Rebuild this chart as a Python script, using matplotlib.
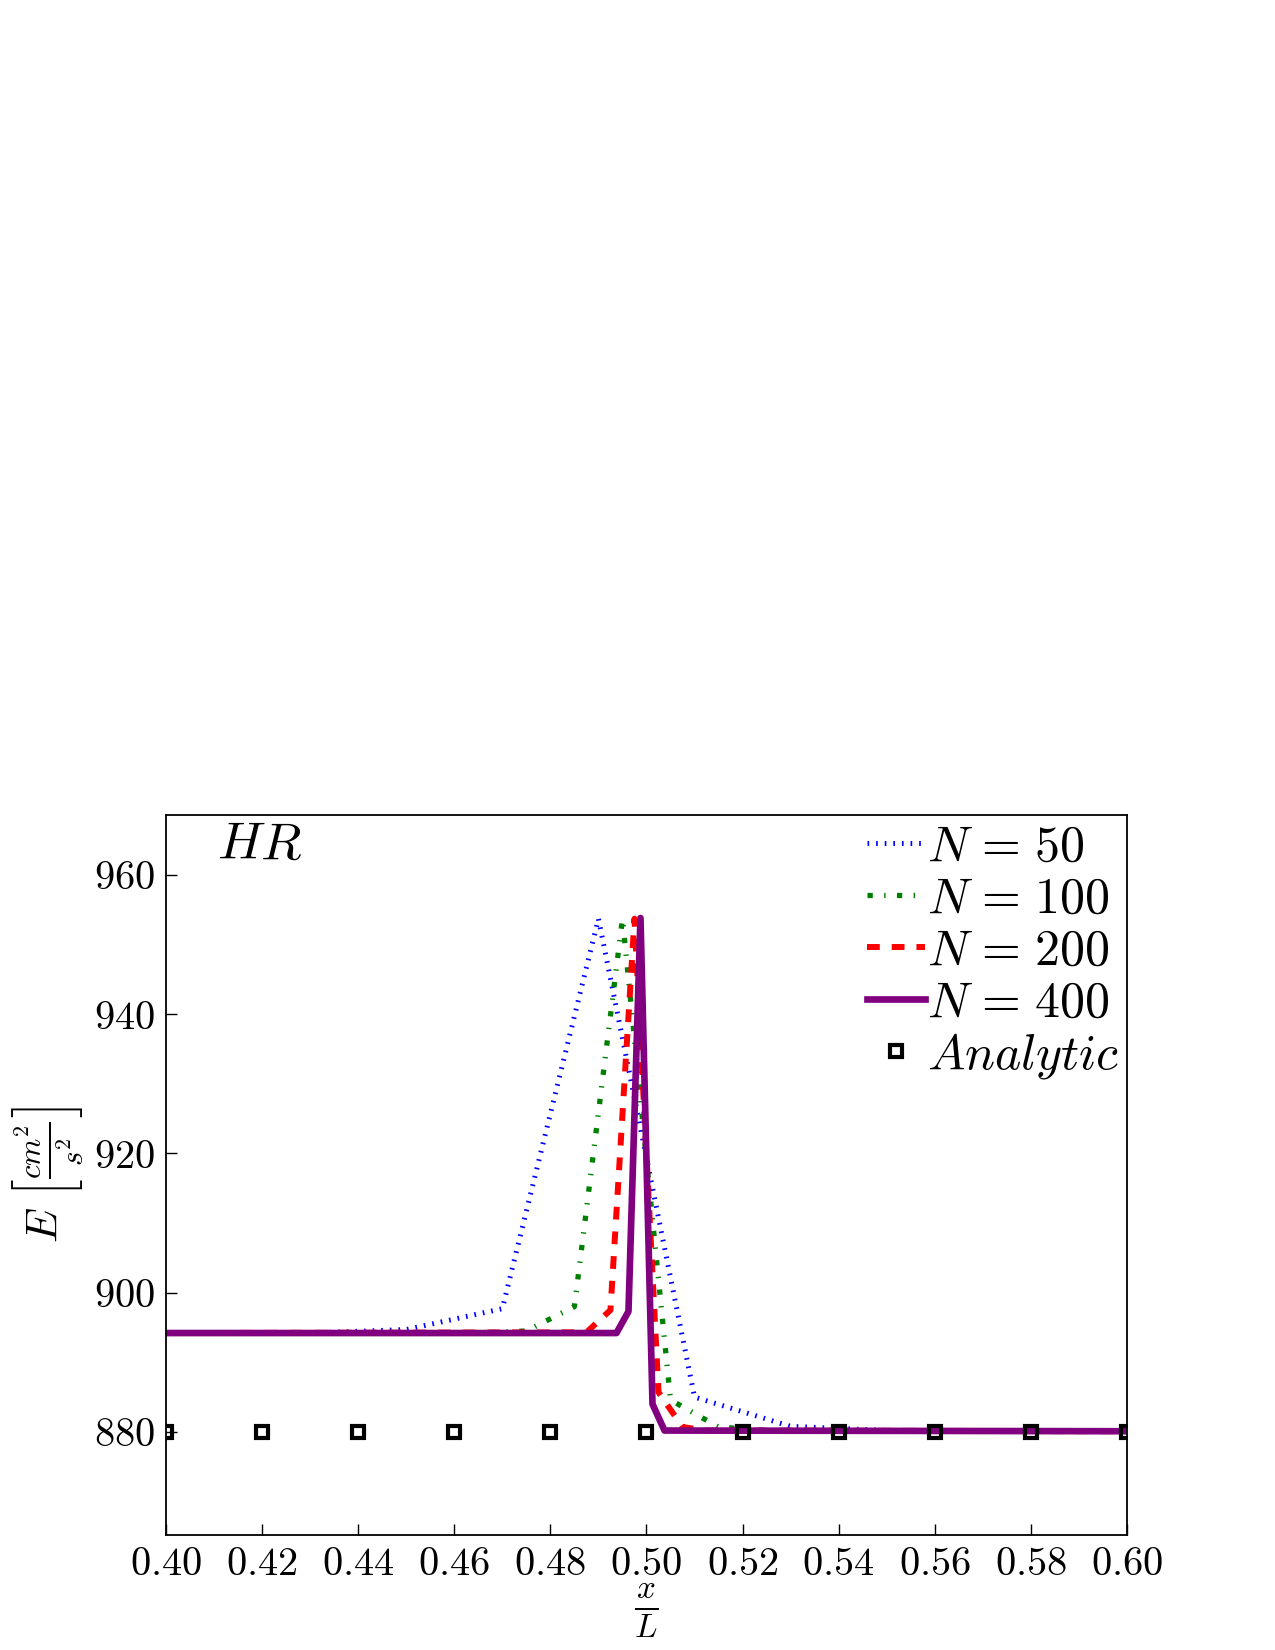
import numpy as np
from matplotlib import pyplot as plt
from matplotlib.ticker import FormatStrFormatter

plt.rcParams["mathtext.fontset"] = "cm"
plt.rcParams["font.family"] = "serif"
plt.rcParams["font.serif"] = ["DejaVu Serif"]
plt.rcParams["lines.scale_dashes"] = False

# N = 50
x50 = [0.40, 0.43, 0.45, 0.47, 0.49, 0.51, 0.53, 0.55, 0.60]
E50 = [894.2, 894.2, 894.7, 897.7, 953.7, 885.0, 880.8, 880.2, 880.1]
# N = 100
x100 = [0.40, 0.465, 0.475, 0.485, 0.495, 0.505, 0.515, 0.525, 0.60]
E100 = [894.2, 894.2, 894.5, 898.0, 953.7, 884.6, 880.7, 880.2, 880.1]
# N = 200
x200 = [0.40, 0.4875, 0.4925, 0.4975, 0.5025, 0.5075, 0.5125, 0.60]
E200 = [894.2, 894.3, 897.5, 953.7, 885.7, 880.7, 880.2, 880.1]
# N = 400
x400 = [0.40, 0.49375, 0.49625, 0.49875, 0.50125, 0.50375, 0.60]
E400 = [894.2, 894.2, 897.3, 953.8, 884.0, 880.2, 880.1]
# analytic
xa = [0.40, 0.42, 0.44, 0.46, 0.48, 0.50, 0.52, 0.54, 0.56, 0.58, 0.60]
Ea = [880.0, 880.0, 880.0, 880.0, 880.0, 880.0, 880.0, 880.0, 880.0, 880.0, 880.0]

xticks = [0.40, 0.42, 0.44, 0.46, 0.48, 0.50, 0.52, 0.54, 0.56, 0.58, 0.60]
yticks = [880, 900, 920, 940, 960]

fig = plt.figure(figsize=(12.75, 16.5), dpi=100)
ax = fig.add_axes([0.1302, 0.0697, 0.7537, 0.4364])

ax.plot(x50, E50, color="b", lw=3.6, dashes=(1.2, 5.0), label=r"$N\hspace{0.12}=\hspace{0.12}50$")
ax.plot(x100, E100, color=(0, 0.5, 0), lw=3.8, dashes=(3.8, 8.2, 1.0, 8.2), label=r"$N\hspace{0.12}=\hspace{0.12}100$")
ax.plot(x200, E200, color="r", lw=4.3, dashes=(9.2, 8.6), label=r"$N\hspace{0.12}=\hspace{0.12}200$")
ax.plot(x400, E400, color="purple", lw=4.8, label=r"$N\hspace{0.12}=\hspace{0.12}400$")
ax.plot(xa, Ea, "s", ms=8, mew=3.0, mec="k", mfc="none", ls="none", label=r"$Analytic$")

ax.set_xlim(0.40, 0.60)
ax.set_ylim(865.2, 968.6)
ax.set_xticks(xticks)
ax.set_yticks(yticks)
ax.xaxis.set_major_formatter(FormatStrFormatter(r"$%.2f$"))
ax.yaxis.set_major_formatter(FormatStrFormatter(r"$%d$"))
ax.tick_params(direction="in", length=8, width=1, labelsize=29, pad=8,
               top=False, right=False)
for s in ax.spines.values():
    s.set_linewidth(1.3)

ax.set_xlabel(r"$\frac{x}{L}$", fontsize=34, labelpad=0)
ax.set_ylabel(r"$E\ \left[\frac{cm^2}{s^2}\right]$", fontsize=32, labelpad=6)
ax.text(0.053, 0.995, r"$HR$", transform=ax.transAxes, fontsize=38, va="top", ha="left")

ax.legend(loc="upper right", fontsize=36, frameon=False, handlelength=1.15,
          handletextpad=0.05, labelspacing=0.05, borderaxespad=0.1, borderpad=0.05,
          numpoints=1)

plt.savefig("out.png", dpi=100)
